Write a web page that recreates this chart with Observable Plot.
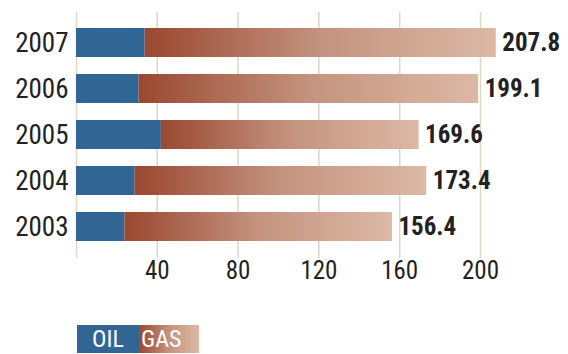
<!DOCTYPE html>
<html><head><meta charset="utf-8">
<script src="https://cdn.jsdelivr.net/npm/d3@7"></script>
<script src="https://cdn.jsdelivr.net/npm/@observablehq/plot@0.6"></script>
<style>
body{margin:0;background:#fff;font-family:"Liberation Sans Narrow","Roboto Condensed","DejaVu Sans Condensed",sans-serif;}
#chart{position:absolute;left:0;top:0;}
#legend{position:absolute;left:77px;top:325px;display:flex;height:28px;line-height:29px;color:#fff;font-size:24px;}
#legend .oil{width:62px;background:#316594;text-align:center;}
#legend .gas{width:60px;background:linear-gradient(to right,#9a4730,#c3937f 50%,#dcb9a5);text-align:left;padding-left:2px;box-sizing:border-box;}
</style></head><body>
<div id="chart"></div>
<div id="legend"><span class="oil">OIL</span><span class="gas">GAS</span></div>
<script>
const years = ["2007","2006","2005","2004","2003"];
const oil = [34, 31, 42, 29, 24];
const total = [207.8, 199.1, 169.6, 173.4, 156.4];
const xTicks = [40, 80, 120, 160, 200];
const gridValues = [0, 40, 80, 120, 160, 200];

const rows = years.map((y, i) => ({year: y, oil: oil[i], total: total[i]}));
const ff = '"Liberation Sans Narrow","Roboto Condensed","DejaVu Sans Condensed",sans-serif';

const plot = Plot.plot({
  width: 568, height: 290,
  marginLeft: 76, marginRight: 88, marginTop: 12, marginBottom: 32,
  x: {domain: [0, 200]},
  y: {domain: years, paddingInner: 0.36, paddingOuter: 0.32},
  style: {fontFamily: ff, color: "#222", background: "white", overflow: "visible"},
  marks: [
    Plot.ruleX(gridValues, {stroke: "#dcd8c4", strokeWidth: 1.5}),
    Plot.barX(rows, {y: "year", x1: 0, x2: "oil", fill: "#316594"}),
    Plot.barX(rows, {y: "year", x1: "oil", x2: "total", fill: "url(#gasGrad)"}),
    Plot.text(rows, {y: "year", x: "total", text: d => d.total.toFixed(1), dx: 6, textAnchor: "start", fontWeight: "bold", fontSize: 25, fill: "#222"}),
    Plot.axisX({ticks: xTicks, tickSize: 0, tickPadding: 3, fontSize: 25, label: null, fill: "#222"}),
    Plot.axisY({tickSize: 0, tickPadding: 8, fontSize: 27, label: null, fill: "#222"})
  ]
});

const defs = d3.select(plot).insert("defs", ":first-child");
const g = defs.append("linearGradient").attr("id", "gasGrad").attr("x1", "0%").attr("x2", "100%").attr("y1", "0%").attr("y2", "0%");
g.append("stop").attr("offset", "0%").attr("stop-color", "#9a4730");
g.append("stop").attr("offset", "50%").attr("stop-color", "#c3937f");
g.append("stop").attr("offset", "100%").attr("stop-color", "#dcb9a5");

document.getElementById("chart").appendChild(plot);
</script>
</body></html>
